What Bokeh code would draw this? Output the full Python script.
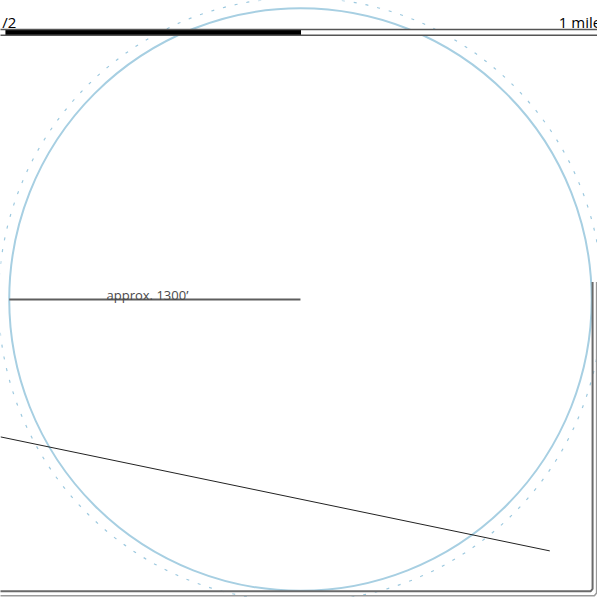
from bokeh.plotting import figure
from bokeh.embed import file_html
from bokeh.resources import INLINE
from bokeh.core.properties import value
from bokeh.models import Range1d

# ---- data (feet, circle centre at origin) ----
FT_PER_MILE = 5280
circle_radius_ft = [1300]
buffer_radius_ft = [1348]
radius_line_x = [-1300, 0]
radius_line_y = [0, 0]
radius_label = ["approx. 1300\u2019"]
radius_label_x = [-683]
radius_label_y = [22]

scale_origin_ft = -3957          # position of "0 mile" on the bar
scale_ticks_mi = [0.5, 0.75, 1.0]
scale_fill = ["black", "white"]
scale_top_ft = 1206
scale_bottom_ft = 1180
scale_labels = ["1/2", "1 mile"]
scale_label_mi = [0.5, 1.0]

road_x = [-1339, 1113]
road_y = [-613, -1122]

frame_inner_x = [1304, 1304, 1296, -1400]
frame_inner_y = [78, -1292, -1302, -1302]
frame_outer_x = [1322, 1322, 1312, -1400]
frame_outer_y = [78, -1310, -1322, -1322]

# ---- figure ----
W = 597
p = figure(width=W, height=W, output_backend="svg", toolbar_location=None,
           x_range=Range1d(-1339, 1326), y_range=Range1d(-1330, 1335),
           min_border=0)
p.axis.visible = False
p.grid.visible = False
p.outline_line_color = None
p.background_fill_color = "white"

# buffer (dotted) and main circle
p.circle(x=[0], y=[0], radius=buffer_radius_ft, fill_color=None,
         line_color="#9dc9df", line_width=1.2, line_dash="3 9")
p.circle(x=[0], y=[0], radius=circle_radius_ft, fill_color=None,
         line_color="#a7cfe2", line_width=2)

# radius line and label
p.line(radius_line_x, radius_line_y, line_color="#5e5e5e", line_width=2)
p.text(x=radius_label_x, y=radius_label_y, text=radius_label,
       text_font=value("Open Sans"), text_font_size="13px",
       text_color="#4a4a4a", text_align="center", text_baseline="alphabetic")

# road line
p.line(road_x, road_y, line_color="#222222", line_width=1)

# frame (double border)
p.line(frame_inner_x, frame_inner_y, line_color="#6a6a6a", line_width=2)
p.line(frame_outer_x, frame_outer_y, line_color="#9a9a9a", line_width=1.5)

# scale bar
lefts = [scale_origin_ft + t * FT_PER_MILE for t in scale_ticks_mi[:-1]]
rights = [scale_origin_ft + t * FT_PER_MILE for t in scale_ticks_mi[1:]]
p.quad(left=lefts, right=rights, top=[scale_top_ft] * len(lefts),
       bottom=[scale_bottom_ft] * len(lefts), fill_color=scale_fill,
       line_color=None)
bar_l = scale_origin_ft + scale_ticks_mi[0] * FT_PER_MILE - 200
bar_r = scale_origin_ft + scale_ticks_mi[-1] * FT_PER_MILE + 200
p.line([bar_l, bar_r], [scale_top_ft, scale_top_ft], line_color="#555555", line_width=1.5)
p.line([bar_l, bar_r], [scale_bottom_ft, scale_bottom_ft], line_color="#555555", line_width=1.5)

lab_x = [scale_origin_ft + m * FT_PER_MILE for m in scale_label_mi]
p.text(x=[lab_x[0]], y=[scale_top_ft + 35], text=[scale_labels[0]],
       text_font=value("Open Sans"), text_font_size="15px", text_color="black",
       text_align="right", text_baseline="alphabetic", x_offset=11)
p.text(x=[lab_x[1]], y=[scale_top_ft + 35], text=[scale_labels[1]],
       text_font=value("Open Sans"), text_font_size="15px", text_color="black",
       text_align="left", text_baseline="alphabetic", x_offset=-38)

open("out.html", "w").write(file_html(p, INLINE))
